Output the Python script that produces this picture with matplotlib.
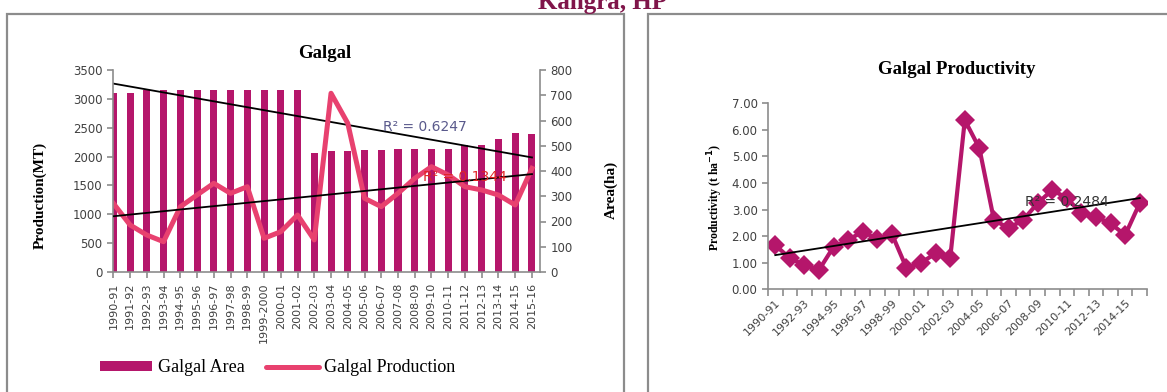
import numpy as np
import matplotlib
matplotlib.use('Agg')
import matplotlib.pyplot as plt
from matplotlib.patches import Rectangle, Patch
from matplotlib.lines import Line2D

W, H = 1167, 392

years = ['1990-91', '1991-92', '1992-93', '1993-94', '1994-95', '1995-96',
         '1996-97', '1997-98', '1998-99', '1999-2000', '2000-01', '2001-02',
         '2002-03', '2003-04', '2004-05', '2005-06', '2006-07', '2007-08',
         '2008-09', '2009-10', '2010-11', '2011-12', '2012-13', '2013-14',
         '2014-15', '2015-16']

# area (ha), right axis
area = [709, 709, 720, 720, 720, 720, 720, 720, 720, 720, 720, 720,
        472, 480, 480, 483, 483, 488, 488, 487, 487, 502, 504, 528, 552, 547]

# production (MT), left axis
production = [1190, 815, 640, 525, 1130, 1335, 1537, 1363, 1478, 584, 698, 988,
              555, 3097, 2577, 1277, 1132, 1364, 1623, 1825, 1681, 1478, 1421,
              1334, 1161, 1796]

# productivity (t/ha)
productivity = [1.66, 1.17, 0.91, 0.73, 1.60, 1.86, 2.17, 1.89, 2.08, 0.80, 1.00,
                1.35, 1.17, 6.37, 5.31, 2.61, 2.30, 2.61, 3.24, 3.74, 3.43, 2.86,
                2.73, 2.48, 2.04, 3.24]

r2_area = 'R² = 0.6247'
r2_prod = 'R² = 0.1344'
r2_pty = 'R² = 0.2484'

BAR = '#B5166B'
LINE = '#E8416F'
GRAY = '#8C8C8C'
TXT = '#404040'
SERIF = 'Liberation Serif'
SANS = 'DejaVu Sans'


def px(x0, y0, x1, y1):
    """figure-fraction box from pixel corners (top-left origin)"""
    return [x0 / W, 1 - y1 / H, (x1 - x0) / W, (y1 - y0) / H]


def trend(y):
    x = np.arange(len(y))
    k, b = np.polyfit(x, y, 1)
    return x, k * x + b


def style_axis(a):
    for s in a.spines.values():
        s.set_color(GRAY)
        s.set_linewidth(1.2)
    a.tick_params(colors=GRAY, labelcolor=TXT, direction='out', length=4, width=1.2)


fig = plt.figure(figsize=(W / 100, H / 100), dpi=100)

# panel frames
fig.add_artist(Rectangle((7 / W, -0.1), (624 - 7) / W, 1.1 - 14 / H,
                         transform=fig.transFigure, fill=False, ec=GRAY, lw=1.6))
fig.add_artist(Rectangle((648 / W, -0.1), 0.5, 1.1 - 14 / H,
                         transform=fig.transFigure, fill=False, ec=GRAY, lw=1.6))

fig.text(603 / W, 1 - 8.5 / H, 'Kangra, HP', ha='center', va='baseline',
         family=SERIF, weight='bold', fontsize=18, color='#80154A')

# ---- left: area bars + production line
x = np.arange(len(years))
ax = fig.add_axes(px(113, 70, 540, 272))
ax2 = ax.twinx()
ax.set_zorder(ax2.get_zorder() + 1)
ax.patch.set_visible(False)

ax2.bar(x, area, width=0.42, color=BAR, zorder=1)
tx, ty = trend(area)
ax2.plot(tx, ty, color='black', lw=1.3, zorder=3)
ax2.set_ylim(0, 800)
ax2.set_yticks(range(0, 801, 100))

ax.plot(x, production, color=LINE, lw=3.6, solid_joinstyle='round', zorder=2)
tx, ty = trend(production)
ax.plot(tx, ty, color='black', lw=1.3, zorder=3)
ax.set_ylim(0, 3500)
ax.set_yticks(range(0, 3501, 500))
ax.set_xlim(-0.02, 25.48)
ax.set_xticks(x)
ax.set_xticklabels(years, rotation=90, fontsize=8, family=SANS)

for a in (ax, ax2):
    style_axis(a)
    a.spines['top'].set_visible(False)
ax.spines['right'].set_visible(False)
ax2.spines['left'].set_visible(False)
ax2.spines['bottom'].set_visible(False)
ax.tick_params(axis='y', labelsize=8.5)
ax2.tick_params(axis='y', labelsize=8.5)

ax.text(0.73, 0.718, r2_area, transform=ax.transAxes, ha='center', va='center',
        fontsize=10, color='#5A5A8C', zorder=5)
ax.text(0.824, 0.47, r2_prod, transform=ax.transAxes, ha='center', va='center',
        fontsize=10, color='#E02424', zorder=5)

fig.text(325 / W, 1 - 54 / H, 'Galgal', ha='center', va='center',
         family=SERIF, weight='bold', fontsize=13.5)
fig.text(40 / W, 1 - 195 / H, 'Production(MT)', ha='center', va='center',
         rotation=90, family=SERIF, weight='bold', fontsize=11)
fig.text(611 / W, 1 - 190 / H, 'Area(ha)', ha='center', va='center',
         rotation=90, family=SERIF, weight='bold', fontsize=11)

handles = [Patch(facecolor=BAR, edgecolor='none'),
           Line2D([], [], color=LINE, lw=3.6, solid_capstyle='round')]
fig.legend(handles, ['Galgal Area', 'Galgal Production'], loc='center left',
           bbox_to_anchor=(100 / W, 1 - 368 / H), ncol=2, frameon=False,
           borderpad=0, borderaxespad=0, handlelength=2.9, handleheight=0.5,
           handletextpad=0.3, columnspacing=1.2,
           prop={'family': SERIF, 'size': 13})

# ---- right: productivity
bx = fig.add_axes(px(768, 103.3, 1147, 289.3))
bx.plot(x, productivity, color=BAR, lw=3, marker='D', markersize=10,
        markeredgewidth=0, zorder=2)
tx, ty = trend(productivity)
bx.plot(tx, ty, color='black', lw=1.3, zorder=3)
bx.set_xlim(-0.5, 25.5)
bx.set_ylim(0, 7)
bx.set_yticks(np.arange(0, 7.01, 1))
bx.set_yticklabels([f'{v:.2f}' for v in np.arange(0, 7.01, 1)], fontsize=8.5)
bx.set_xticks(x[::2])
bx.set_xticklabels(years[::2], rotation=45, ha='right', rotation_mode='anchor',
                   fontsize=8)
bx.set_xticks(np.arange(-0.5, 25.6, 1), minor=True)
style_axis(bx)
bx.tick_params(axis='x', which='major', length=0, pad=6)
bx.tick_params(axis='x', which='minor', length=5, width=1.2, color=GRAY)
bx.spines['top'].set_visible(False)
bx.spines['right'].set_visible(False)

bx.text(0.789, 0.471, r2_pty, transform=bx.transAxes, ha='center', va='center',
        fontsize=10, color='#333333', zorder=5)

fig.text(957 / W, 1 - 70 / H, 'Galgal Productivity', ha='center', va='center',
         family=SERIF, weight='bold', fontsize=13.5)
fig.text(715 / W, 1 - 197 / H, r'Productivity (t ha$^{\mathbf{-1}}$)', ha='center',
         va='center', rotation=90, family=SERIF, weight='bold', fontsize=8.5)

fig.savefig('out.png', dpi=100)
